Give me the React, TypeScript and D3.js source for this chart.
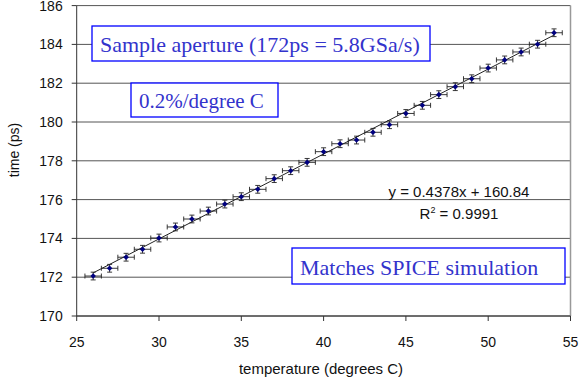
import React from 'react';
import * as d3 from 'd3';

const temps = [26, 27, 28, 29, 30, 31, 32, 33, 34, 35, 36, 37, 38, 39, 40, 41, 42, 43, 44, 45, 46, 47, 48, 49, 50, 51, 52, 53, 54];
const times = [172.06, 172.46, 173.03, 173.44, 174.02, 174.59, 175.0, 175.41, 175.77, 176.15, 176.53, 177.08, 177.49, 177.92, 178.47, 178.88, 179.07, 179.47, 179.86, 180.44, 180.86, 181.41, 181.82, 182.23, 182.78, 183.2, 183.61, 184.01, 184.6];
const tempErr = 0.5;
const timeErr = 0.2;
const slope = 0.4378;
const intercept = 160.84;
const xTicks = [25, 30, 35, 40, 45, 50, 55];
const yTicks = [170, 172, 174, 176, 178, 180, 182, 184, 186];

const W = 584;
const H = 383;
const left = 76.7;
const right = 570.5;
const top = 5.6;
const bottom = 316;

const blueText = '#3333cc';
const sans = '"Liberation Sans", Arial, sans-serif';
const serif = '"Liberation Serif", "Times New Roman", serif';

export default function App() {
  const x = d3.scaleLinear().domain([25, 55]).range([left, right]);
  const y = d3.scaleLinear().domain([170, 186]).range([bottom, top]);

  const fit = d3.line<number>()
    .x(t => x(t))
    .y(t => y(slope * t + intercept));

  const notes = [
    { text: 'Sample aperture (172ps = 5.8GSa/s)', x0: 92, x1: 430, y0: 26, y1: 61, size: 22 },
    { text: '0.2%/degree C', x0: 131, x1: 278, y0: 83, y1: 117, size: 21 },
    { text: 'Matches SPICE simulation', x0: 292, x1: 565, y0: 248, y1: 284, size: 22 },
  ];

  return (
    <svg width={W} height={H} style={{ position: 'absolute', left: 0, top: 0 }}>
      <rect width={W} height={H} fill="#fff" />
      {/* gridlines */}
      {yTicks.map(v => (
        <line key={'g' + v} x1={left} x2={right} y1={y(v)} y2={y(v)} stroke="#555" strokeWidth={1} />
      ))}
      <line x1={right} x2={right} y1={top} y2={bottom} stroke="#999" strokeWidth={1.5} />
      {/* axes */}
      <line x1={left} x2={left} y1={top} y2={bottom} stroke="#333" strokeWidth={1} />
      <line x1={left} x2={right} y1={bottom} y2={bottom} stroke="#333" strokeWidth={1} />
      {yTicks.map(v => (
        <g key={'yt' + v}>
          <line x1={left - 5} x2={left} y1={y(v)} y2={y(v)} stroke="#333" />
          <text x={left - 14} y={y(v) + 5} textAnchor="end" fontFamily={sans} fontSize={14} fill="#111">{v}</text>
        </g>
      ))}
      {xTicks.map(v => (
        <g key={'xt' + v}>
          <line x1={x(v)} x2={x(v)} y1={bottom} y2={bottom + 5} stroke="#333" />
          <text x={x(v)} y={347} textAnchor="middle" fontFamily={sans} fontSize={14} fill="#111">{v}</text>
        </g>
      ))}
      <text x={321} y={374} textAnchor="middle" fontFamily={sans} fontSize={15} fill="#111">temperature (degrees C)</text>
      <text transform={`translate(19,150) rotate(-90)`} textAnchor="middle" fontFamily={sans} fontSize={14} fill="#111">time (ps)</text>

      {/* trend line */}
      <path d={fit([temps[0], temps[temps.length - 1]]) || ''} fill="none" stroke="#222" strokeWidth={1} />

      {/* error bars and markers */}
      {temps.map((t, i) => {
        const cx = x(t);
        const cy = y(times[i]);
        const xl = x(t - tempErr);
        const xr = x(t + tempErr);
        const yt = y(times[i] + timeErr);
        const yb = y(times[i] - timeErr);
        return (
          <g key={'p' + t} stroke="#222" strokeWidth={0.9}>
            <line x1={xl} x2={xr} y1={cy} y2={cy} />
            <line x1={xl} x2={xl} y1={cy - 2.5} y2={cy + 2.5} />
            <line x1={xr} x2={xr} y1={cy - 2.5} y2={cy + 2.5} />
            <line x1={cx} x2={cx} y1={yt} y2={yb} />
            <line x1={cx - 2.5} x2={cx + 2.5} y1={yt} y2={yt} />
            <line x1={cx - 2.5} x2={cx + 2.5} y1={yb} y2={yb} />
            <path d={`M${cx},${cy - 2.8}L${cx + 2.8},${cy}L${cx},${cy + 2.8}L${cx - 2.8},${cy}Z`} fill="#000080" stroke="none" />
          </g>
        );
      })}

      {/* fit equation */}
      <text x={459} y={197} textAnchor="middle" fontFamily={sans} fontSize={15} fill="#111">y = 0.4378x + 160.84</text>
      <text x={459} y={219} textAnchor="middle" fontFamily={sans} fontSize={15} fill="#111">
        R<tspan dy={-6} fontSize={9}>2</tspan><tspan dy={6}> = 0.9991</tspan>
      </text>

      {/* annotation boxes */}
      {notes.map(n => (
        <g key={n.text}>
          <rect x={n.x0} y={n.y0} width={n.x1 - n.x0} height={n.y1 - n.y0} fill="#fff" stroke="#0000ff" strokeWidth={1.3} />
          <text x={n.x0 + 8} y={n.y1 - 9} fontFamily={serif} fontSize={n.size} fill={blueText}>{n.text}</text>
        </g>
      ))}
    </svg>
  );
}
